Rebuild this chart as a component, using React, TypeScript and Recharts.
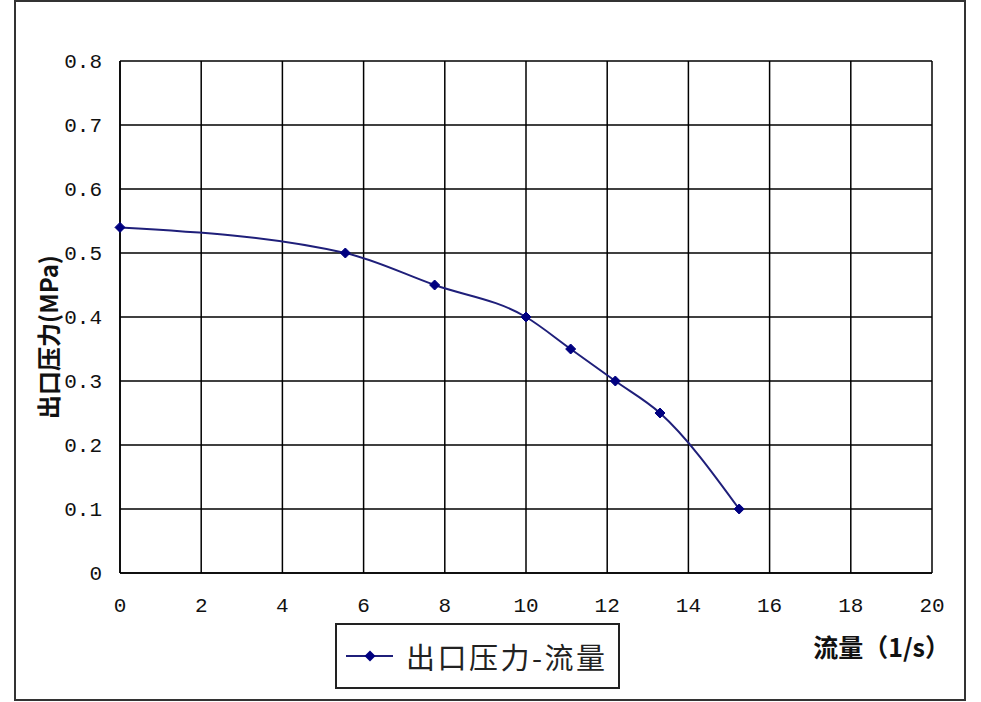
import React from "react";
import {
  LineChart,
  Line,
  XAxis,
  YAxis,
  CartesianGrid,
  Legend,
} from "recharts";

const flowValues = [0, 5.55, 7.75, 10, 11.1, 12.2, 13.3, 15.25];
const pressureValues = [0.54, 0.5, 0.45, 0.4, 0.35, 0.3, 0.25, 0.1];
const xTicks = [0, 2, 4, 6, 8, 10, 12, 14, 16, 18, 20];
const yTicks = [0, 0.1, 0.2, 0.3, 0.4, 0.5, 0.6, 0.7, 0.8];

const SERIES_NAME = "出口压力-流量";
const LINE_COLOR = "#1f1f7a";
const DOT_COLOR = "#000080";
const TICK_FONT = "'Liberation Mono', 'DejaVu Sans Mono', monospace";
const CJK_FONT = "'Noto Sans CJK SC', 'Noto Sans', sans-serif";

const data = flowValues.map((x, i) => ({ flow: x, pressure: pressureValues[i] }));

function Diamond(props: any) {
  const { cx, cy } = props;
  if (cx == null || cy == null) return null;
  const r = 5;
  return (
    <polygon
      points={`${cx},${cy - r} ${cx + r},${cy} ${cx},${cy + r} ${cx - r},${cy}`}
      fill={DOT_COLOR}
      stroke={DOT_COLOR}
    />
  );
}

function LegendBox() {
  return (
    <div
      style={{
        width: 285,
        height: 66,
        boxSizing: "border-box",
        border: "2px solid #222",
        background: "#fff",
        display: "flex",
        alignItems: "center",
        paddingLeft: 8,
        whiteSpace: "nowrap",
      }}
    >
      <svg width={50} height={20} style={{ flex: "none" }}>
        <line x1={1} y1={10} x2={48} y2={10} stroke={LINE_COLOR} strokeWidth={2} />
        <polygon points="25,4.5 30.5,10 25,15.5 19.5,10" fill={DOT_COLOR} />
      </svg>
      <span
        style={{
          fontFamily: CJK_FONT,
          fontSize: 29,
          color: "#222",
          marginLeft: 11,
          letterSpacing: 2.5,
          lineHeight: 1,
        }}
      >
        {SERIES_NAME}
      </span>
    </div>
  );
}

function XLabel(props: any) {
  const { viewBox } = props;
  // full-width closing paren carries its own right padding
  return (
    <text
      x={viewBox.x + viewBox.width + 18}
      y={viewBox.y + 84}
      textAnchor="end"
      fontFamily={CJK_FONT}
      fontWeight="bold"
      fontSize={25}
      fill="#111"
    >
      流量（1/s）
    </text>
  );
}

function YLabel(props: any) {
  const { viewBox } = props;
  const cx = 47;
  const cy = viewBox.y + viewBox.height / 2 + 20;
  return (
    <text
      x={cx}
      y={cy}
      transform={`rotate(-90, ${cx}, ${cy})`}
      textAnchor="middle"
      dominantBaseline="central"
      fontFamily={CJK_FONT}
      fontWeight="bold"
      fontSize={24}
      fill="#111"
    >
      出口压力(MPa)
    </text>
  );
}

export default function App() {
  return (
    <div
      style={{
        position: "fixed",
        left: 0,
        top: 0,
        width: 981,
        height: 702,
        background: "#fff",
      }}
    >
      <div
        style={{
          position: "absolute",
          left: 14,
          top: 0,
          width: 952,
          height: 701,
          boxSizing: "border-box",
          border: "2px solid #333",
        }}
      />
      <div style={{ position: "absolute", left: 0, top: 0 }}>
        <LineChart
          width={981}
          height={702}
          data={data}
          margin={{ top: 61, right: 49, bottom: 99, left: 60 }}
        >
          <CartesianGrid stroke="#000" strokeWidth={1.5} />
          <XAxis
            type="number"
            dataKey="flow"
            domain={[0, 20]}
            ticks={xTicks}
            height={30}
            axisLine={{ stroke: "#000", strokeWidth: 1.5 }}
            tickLine={false}
            tickSize={0}
            tickMargin={24}
            tick={{ fontFamily: TICK_FONT, fontSize: 21, fill: "#111" }}
            label={<XLabel />}
          />
          <YAxis
            type="number"
            domain={[0, 0.8]}
            ticks={yTicks}
            width={60}
            axisLine={{ stroke: "#000", strokeWidth: 1.5 }}
            tickLine={false}
            tickSize={0}
            tickMargin={18}
            tickFormatter={(v: number) => (v === 0 ? "0" : v.toFixed(1))}
            tick={{ fontFamily: TICK_FONT, fontSize: 21, fill: "#111" }}
            label={<YLabel />}
          />
          <Legend
            layout="horizontal"
            verticalAlign="middle"
            align="center"
            wrapperStyle={{ top: 623, left: 335, width: 285, height: 66 }}
            content={() => <LegendBox />}
          />
          <Line
            type="monotone"
            dataKey="pressure"
            name={SERIES_NAME}
            stroke={LINE_COLOR}
            strokeWidth={2}
            dot={<Diamond />}
            activeDot={false}
            isAnimationActive={false}
          />
        </LineChart>
      </div>
    </div>
  );
}
